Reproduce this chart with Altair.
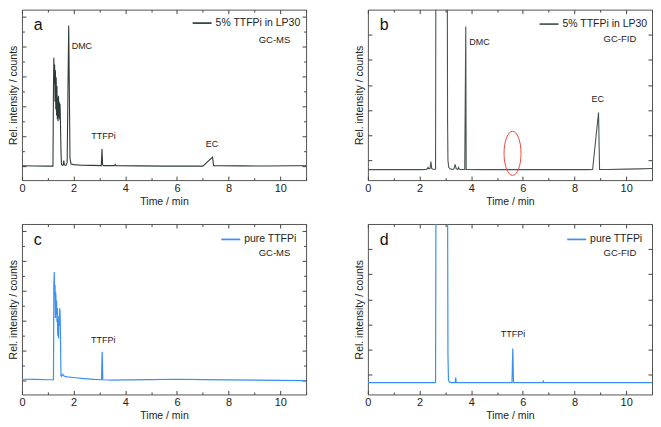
import altair as alt
import pandas as pd

# ---------------- data ----------------
# panel a: 5% TTFPi in LP30, GC-MS
a_time = [0.0, 0.5, 1.0, 1.20, 1.22, 1.235, 1.25, 1.265, 1.28, 1.295, 1.31, 1.325, 1.34, 1.355,
          1.37, 1.385, 1.40, 1.415, 1.43, 1.445, 1.46, 1.475, 1.49, 1.51, 1.53, 1.57, 1.60, 1.62,
          1.64, 1.70, 1.75, 1.78, 1.81, 1.835, 1.86, 1.90, 2.0, 2.3, 2.7, 3.07, 3.10, 3.12, 3.15,
          3.58, 3.61, 3.64, 4.5, 5.5, 6.5, 7.0, 7.38, 7.42, 7.6, 8.5, 9.5, 10.5, 11.0]
a_int = [14.6, 14.4, 14.3, 14.3, 95, 125, 98, 118, 80, 112, 72, 105, 66, 96,
         62, 84, 60, 86, 64, 80, 62, 78, 60, 30, 16, 15, 15.5, 20,
         15.5, 15, 18, 90, 157.7, 90, 22, 16.5, 15.8, 15.2, 15, 14.8, 31.7, 16, 14.8,
         14.8, 16, 14.8, 14.5, 14.3, 14.3, 14.3, 23.5, 14.6, 14.6, 14.5, 14.4, 14.6, 14.6]

# panel b: 5% TTFPi in LP30, GC-FID
b_time = [0.0, 1.0, 2.0, 2.25, 2.30, 2.33, 2.36, 2.41, 2.44, 2.47, 2.52, 2.60, 2.62, 2.635,
          3.07, 3.085, 3.10, 3.13, 3.18, 3.25, 3.33, 3.38, 3.42, 3.48, 3.51, 3.54, 3.60,
          3.75, 3.79, 3.805, 4.5, 5.5, 6.5, 7.5, 8.5, 8.70, 8.93, 8.97, 9.3, 10.0, 10.5, 11.0]
b_int = [10.7, 10.7, 10.7, 10.8, 11.5, 13, 11.5, 12, 19, 12, 11, 10.8, 11.5, 260,
         260, 60, 20, 13, 11.5, 11, 11.3, 16, 11.5, 11, 13, 11, 10.8,
         10.8, 156.7, 10.8, 10.7, 10.7, 10.7, 10.7, 10.7, 10.8, 69, 10.8, 10.9, 11.2, 11.5, 11.8]

# panel c: pure TTFPi, GC-MS
c_time = [0.0, 0.5, 1.0, 1.22, 1.235, 1.25, 1.265, 1.28, 1.295, 1.31, 1.325, 1.34, 1.355, 1.37,
          1.385, 1.40, 1.415, 1.43, 1.445, 1.46, 1.475, 1.49, 1.51, 1.53, 1.58, 1.62, 1.66, 1.75,
          2.0, 2.4, 2.8, 3.08, 3.105, 3.13, 3.5, 4.0, 5.0, 6.0, 7.0, 8.0, 9.0, 10.0, 11.0]
c_int = [15.5, 15.3, 15.0, 15.0, 112, 125, 100, 112, 78, 104, 82, 96, 74, 88,
         60, 76, 57, 80, 70, 88, 84, 60, 19, 18.5, 20.5, 19, 18.5, 18,
         17.3, 16.2, 15.3, 15, 43.5, 15, 14.6, 14.8, 15.2, 15.5, 15.1, 14.8, 14.6, 14.4, 14.2]

# panel d: pure TTFPi, GC-FID
d_time = [0.0, 1.0, 2.0, 2.62, 2.64, 3.08, 3.10, 3.12, 3.16, 3.25, 3.38, 3.40, 3.42, 4.5,
          5.58, 5.61, 5.64, 6.77, 6.79, 6.81, 8.0, 9.5, 11.0]
d_int = [12, 12, 12, 12, 260, 260, 40, 15, 12.5, 12, 12, 17.3, 12, 12,
         12, 47, 12, 12, 13.5, 12, 12, 12, 12]

series_names = ["5% TTFPi in LP30", "5% TTFPi in LP30", "pure TTFPi", "pure TTFPi"]
detectors = ["GC-MS", "GC-FID", "GC-MS", "GC-FID"]
panel_letters = ["a", "b", "c", "d"]

a_labels, a_lab_time, a_lab_int = ["DMC", "TTFPi", "EC"], [2.32, 3.16, 7.36], [137.3, 45, 37.3]
b_labels, b_lab_time, b_lab_int = ["DMC", "EC"], [4.32, 8.9], [140.7, 82.7]
c_labels, c_lab_time, c_lab_int = ["TTFPi"], [3.15], [56]
d_labels, d_lab_time, d_lab_int = ["TTFPi"], [5.62], [62]

# red ellipse marking where TTFPi would elute in panel b
mark_time = [5.6]
mark_int = [27.3]

x_major = [0, 2, 4, 6, 8, 10]
x_minor = [1, 3, 5, 7, 9, 11]
y_major_ms = [14, 44.5, 75, 105.5, 136, 166.5]
y_minor_ms = [29.25, 59.75, 90.25, 120.75, 151.25]
y_major_fid = [20, 45.7, 71.4, 97.1, 122.8, 148.5]

# ---------------- styling / layout ----------------
W, H = 285, 171
SX, SY = W / 288, H / 174
FONT = "Liberation Sans"
INK = "#222222"
TICK = "#444444"
GRAY = "#2f3b3a"
GRAY2 = "#4a5353"
BLUE = "#3a8ff5"
RED = "#ec4a3e"
ELLIPSE = ("M 0 -1 C 0.2126 -1 0.385 -0.5523 0.385 0 C 0.385 0.5523 0.2126 1 0 1 "
           "C -0.2126 1 -0.385 0.5523 -0.385 0 C -0.385 -0.5523 -0.2126 -1 0 -1 Z")

xs = alt.Scale(domain=[0, 11], nice=False, zero=False)
ys = alt.Scale(domain=[0, 174], nice=False, zero=False)


def tick_layer(df, xv, yv, size, edge):
    if edge == "bl":
        xo, yo = "top", "right"
    else:
        xo, yo = "bottom", "left"
    xa = alt.Axis(orient=xo, offset=-H, values=xv, tickSize=size, tickColor=TICK, tickWidth=1,
                  labels=False, domain=False, grid=False, title=None)
    if yv:
        ya = alt.Axis(orient=yo, offset=-W, values=yv, tickSize=size, tickColor=TICK, tickWidth=1,
                      labels=False, domain=False, grid=False, title=None)
    else:
        ya = None
    return alt.Chart(df).mark_point(opacity=0, clip=True).encode(
        x=alt.X("time:Q", scale=xs, axis=xa),
        y=alt.Y("intensity:Q", scale=ys, axis=ya),
    )


def panel(time, inten, series, color, sw, letter, detector, labs, lab_t, lab_i,
          ymaj, ymin, leg_x, leg_y, det_y, ellipse=False):
    df = pd.DataFrame({"time": time, "intensity": inten, "series": [series] * len(time)})
    line = alt.Chart(df).mark_line(strokeWidth=sw, clip=True).encode(
        x=alt.X("time:Q", scale=xs,
                axis=alt.Axis(orient="bottom", values=x_major, ticks=False, domain=False, grid=False,
                              labelFlush=False, labelPadding=2, titlePadding=3,
                              title="Time / min")),
        y=alt.Y("intensity:Q", scale=ys,
                axis=alt.Axis(orient="left", labels=False, ticks=False, domain=False, grid=False,
                              titlePadding=3, title="Rel. intensity / counts")),
        color=alt.Color("series:N", scale=alt.Scale(domain=[series], range=[color]),
                        legend=alt.Legend(orient="none", legendX=leg_x * SX, legendY=leg_y,
                                          title=None, symbolType="stroke", symbolSize=361,
                                          symbolStrokeWidth=1.7, labelFontSize=10.5, labelFont=FONT,
                                          labelColor=INK, labelOffset=3, padding=0)),
    )
    layers = [
        line,
        tick_layer(df, x_major, ymaj, 4, "bl"),
        tick_layer(df, x_major, ymaj, 4, "tr"),
        tick_layer(df, x_minor, ymin, 2.5, "bl"),
        tick_layer(df, x_minor, ymin, 2.5, "tr"),
    ]
    ann = pd.DataFrame({"label": labs, "time": lab_t, "intensity": lab_i})
    layers.append(alt.Chart(ann).mark_text(fontSize=9, font=FONT, color=INK, baseline="middle").encode(
        x=alt.X("time:Q", scale=xs, axis=None),
        y=alt.Y("intensity:Q", scale=ys, axis=None),
        text="label:N"))
    layers.append(alt.Chart(pd.DataFrame({"detector": [detector]})).mark_text(
        fontSize=9.5, font=FONT, color=INK, align="right", baseline="middle").encode(
        x=alt.value(272 * SX), y=alt.value(det_y * SY), text="detector:N"))
    layers.append(alt.Chart(pd.DataFrame({"panel": [letter]})).mark_text(
        fontSize=16, font=FONT, color="#111111", align="left", baseline="alphabetic").encode(
        x=alt.value(12 * SX), y=alt.value(21 * SY), text="panel:N"))
    if ellipse:
        edf = pd.DataFrame({"time": mark_time, "intensity": mark_int})
        layers.append(alt.Chart(edf).mark_point(shape=ELLIPSE, size=(45 * SY) ** 2, filled=False,
                                                color=RED, strokeWidth=1, opacity=1).encode(
            x=alt.X("time:Q", scale=xs, axis=None),
            y=alt.Y("intensity:Q", scale=ys, axis=None)))
    return alt.layer(*layers).resolve_axis(x="independent", y="independent").properties(width=W, height=H)


pa = panel(a_time, a_int, series_names[0], GRAY, 1.1, panel_letters[0], detectors[0],
           a_labels, a_lab_time, a_lab_int, y_major_ms, y_minor_ms, 172, 3, 30.5)
pb = panel(b_time, b_int, series_names[1], GRAY2, 1.1, panel_letters[1], detectors[1],
           b_labels, b_lab_time, b_lab_int, y_major_fid, [], 173, 4, 30, ellipse=True)
pc = panel(c_time, c_int, series_names[2], BLUE, 1.2, panel_letters[2], detectors[2],
           c_labels, c_lab_time, c_lab_int, y_major_ms, y_minor_ms, 201, 5, 29.5)
pd_ = panel(d_time, d_int, series_names[3], BLUE, 1.2, panel_letters[3], detectors[3],
            d_labels, d_lab_time, d_lab_int, y_major_fid, [], 201, 5, 29.5)

row1 = alt.hconcat(pa, pb, spacing=47).resolve_scale(color="independent").resolve_legend(color="independent")
row2 = alt.hconcat(pc, pd_, spacing=47).resolve_scale(color="independent").resolve_legend(color="independent")

chart = (
    alt.vconcat(row1, row2, spacing=16)
    .resolve_scale(color="independent")
    .resolve_legend(color="independent")
    .properties(padding=0)
    .configure_view(stroke="#555555", strokeWidth=1)
    .configure_axis(labelFont=FONT, titleFont=FONT, labelColor=INK, titleColor=INK,
                    labelFontSize=11, titleFontSize=10.5, titleFontWeight="normal")
)

chart.save("out.html", embed_options={"renderer": "svg", "actions": False})
